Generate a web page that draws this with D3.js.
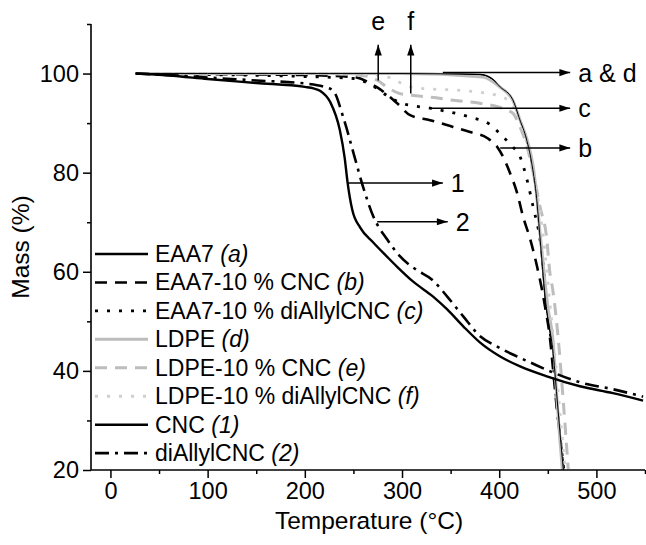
<!DOCTYPE html>
<html>
<head>
<meta charset="utf-8">
<script src="https://cdn.jsdelivr.net/npm/d3@7"></script>
<style>
  body { margin: 0; background: #fff; }
  svg { font-family: "Liberation Sans", Arial, sans-serif; }
</style>
</head>
<body>
<div id="chart"></div>
<script>
// <<< data: [temperature (°C), mass (%)] >>>
const eaa7 = [[26,100],[100,100],[200,100],[300,100],[380,99.8],[392,99],[401,97.3],[414,94.7],[421,90.8],[428,86.8],[434,81.3],[438.5,74.8],[441.5,68],[444.5,61],[447.5,54.5],[451,49.5],[455,44.5],[459.5,34.5],[463,26.5],[466,20]];
const eaa7Cnc = [[26,100],[100,99.9],[200,99.7],[250,99.3],[274.5,97.2],[295,94],[308.4,91.6],[329,90.6],[352.6,89.2],[370,88.2],[387.6,87],[398,85.2],[404,83.2],[411,80],[418.4,75.9],[424.6,71.1],[432,66.5],[439,61],[444,56.4],[448,52],[452,47],[455.4,40.3],[459,33],[462.6,26.8],[466,20]];
const eaa7Diallyl = [[26,100],[100,99.8],[200,99.4],[250,99],[270,97.5],[285,95.5],[300,94],[329,93],[370,91.2],[390,89.8],[404,87.2],[414,85.2],[421.5,83.2],[428.7,78.5],[435,73],[442,66.5],[446,60],[450,52],[455,43],[459,34],[463,26],[466.5,20]];
const ldpe = [[26,100],[100,100],[200,100],[300,100],[383,99.3],[401,97.2],[414,94.6],[421.5,90.6],[428.7,86.6],[435,81.2],[439,74.5],[442,67.9],[446,60],[450,53],[455.4,46],[459.5,34],[462.5,26],[465,20]];
const ldpeCnc = [[26,100],[200,100],[250,99.8],[265,99.4],[275,98.6],[285,97.2],[297,96],[310,95.6],[330,95.2],[353,94.6],[380,94],[400,93.2],[414,92],[421.5,89.2],[428.7,85.2],[435,80],[442,73.1],[449,66.5],[452,60],[455,56.5],[460.5,47],[466,33.7],[471,20.2]];
const ldpeDiallyl = [[26,100],[200,100],[270,99.8],[290,99],[305,97.5],[320,97],[360,96.6],[400,95.5],[414,93.5],[422,90],[429,85.5],[436,79],[442,72],[447,64],[451,56],[456,46],[461,35],[465,26],[468,20]];
const cnc = [[26,100],[60,99.6],[100,98.9],[150,98.1],[200,97.3],[209,97],[216,96.5],[226,94.3],[236,88.6],[241,83],[244,78],[248.8,72.5],[257,68.9],[270.4,65.9],[284.8,63],[295,61],[311.5,58],[332,55],[346.5,52.4],[363,49],[380.4,45.7],[401,42.9],[421.5,40.9],[449,38.9],[483,36.9],[517,35.5],[548,34]];
const diallylCnc = [[26,100],[60,99.7],[100,99.2],[150,98.6],[200,98],[220,97.3],[229,96.6],[239.5,91.2],[250,84],[260,77.1],[270.4,71.2],[284.8,66.5],[298,63.1],[314,60.5],[331,58.4],[346.5,55],[363,51],[380.4,47],[398,44.9],[414,43.3],[432,41.7],[455,39.7],[483,37.7],[517,36.3],[548,34.8]];

const seriesNames = ["EAA7", "EAA7-10 % CNC", "EAA7-10 % diAllylCNC", "LDPE", "LDPE-10 % CNC", "LDPE-10 % diAllylCNC", "CNC", "diAllylCNC"];
const seriesTags = ["(a)", "(b)", "(c)", "(d)", "(e)", "(f)", "(1)", "(2)"];
const seriesData = [eaa7, eaa7Cnc, eaa7Diallyl, ldpe, ldpeCnc, ldpeDiallyl, cnc, diallylCnc];

const xTicks = [0, 100, 200, 300, 400, 500];
const xMinor = [50, 150, 250, 350, 450, 550];
const yTicks = [20, 40, 60, 80, 100];
const yMinor = [30, 50, 70, 90, 110];

// annotation arrows, in data units
const hArrowLabels = ["a & d", "c", "b", "1", "2"];
const hArrowFrom = [342, 329, 401, 243.6, 274.5];
const hArrowTo = [473, 473, 473, 342, 347];
const hArrowMass = [100.2, 93, 85, 77.9, 70.1];
const vArrowLabels = ["e", "f"];
const vArrowTemp = [275.5, 309];
const vArrowFrom = [98.6, 96];
const vArrowTo = [105.8, 105.8];

// line styles per series
const styles = [
  {stroke: "#000", width: 1.6, dash: null},
  {stroke: "#000", width: 2.6, dash: "12,8"},
  {stroke: "#000", width: 2.8, dash: "3,9"},
  {stroke: "#bdbdbd", width: 3, dash: null},
  {stroke: "#bdbdbd", width: 3, dash: "12,8"},
  {stroke: "#cfcfcf", width: 2.8, dash: "3,9"},
  {stroke: "#000", width: 2.4, dash: null},
  {stroke: "#000", width: 2.6, dash: "14,6,3,6"}
];

var margin = {top: 24, right: 1, bottom: 75, left: 91},
    width = 646 - margin.left - margin.right,
    height = 545 - margin.top - margin.bottom;

const root = d3.select("#chart").append("svg")
  .attr("width", 646).attr("height", 545);

root.append("defs").append("marker")
  .attr("id", "head")
  .attr("markerUnits", "userSpaceOnUse")
  .attr("viewBox", "0 -5 12 10")
  .attr("refX", 12).attr("refY", 0)
  .attr("markerWidth", 13).attr("markerHeight", 9)
  .attr("orient", "auto")
  .append("path").attr("d", "M0,-4L12,0L0,4Z").attr("fill", "#000");

const svg = root.append("g")
  .attr("transform", "translate(" + margin.left + "," + margin.top + ")");

const x = d3.scaleLinear().domain([-20, 550]).range([0, width]);
const y = d3.scaleLinear().domain([20, 110]).range([height, 0]);

const line = d3.line()
  .x(function(d) { return x(d[0]); })
  .y(function(d) { return y(d[1]); })
  .curve(d3.curveMonotoneX);

//curves
seriesData.forEach(function(data, i) {
  const s = styles[i];
  svg.append("path")
    .datum(data)
    .attr("fill", "none")
    .attr("stroke", s.stroke)
    .attr("stroke-width", s.width)
    .attr("stroke-dasharray", s.dash)
    .attr("stroke-linejoin", "round")
    .attr("d", line);
});

// redraw EAA7 thin on top of LDPE
svg.append("path").datum(eaa7)
  .attr("fill", "none").attr("stroke", "#000").attr("stroke-width", 1)
  .attr("d", line);

//axes
const xAxis = svg.append("g").attr("transform", "translate(0," + height + ")")
  .call(d3.axisBottom(x).tickValues(xTicks).tickSize(8).tickPadding(4).tickFormat(d3.format("d")));
svg.append("g").attr("transform", "translate(0," + height + ")")
  .call(d3.axisBottom(x).tickValues(xMinor).tickSize(4).tickFormat(""))
  .select(".domain").remove();
const yAxis = svg.append("g")
  .call(d3.axisLeft(y).tickValues(yTicks).tickSize(8).tickPadding(4));
svg.append("g")
  .call(d3.axisLeft(y).tickValues(yMinor).tickSize(4).tickFormat(""))
  .select(".domain").remove();

svg.selectAll(".domain").attr("stroke-width", 1.6).attr("d", null);
xAxis.select(".domain").attr("d", "M0,0H" + width);
yAxis.select(".domain").attr("d", "M0,0V" + height);
svg.selectAll(".tick line").attr("stroke-width", 1.5);
svg.selectAll(".tick text")
  .attr("font-size", 23.5)
  .attr("font-family", "Liberation Sans, Arial, sans-serif")
  .attr("fill", "#000");

svg.append("text")
  .attr("x", x(266)).attr("y", height + 59)
  .attr("text-anchor", "middle")
  .attr("font-size", 24.5)
  .text("Temperature (°C)");

svg.append("text")
  .attr("transform", "rotate(-90)")
  .attr("x", -height / 2).attr("y", -62)
  .attr("text-anchor", "middle")
  .attr("font-size", 24.5)
  .text("Mass (%)");

//legend
const legend = svg.append("g").attr("transform", "translate(4,230)");
seriesNames.forEach(function(name, i) {
  const s = styles[i];
  const row = legend.append("g").attr("transform", "translate(0," + (i * 28.45) + ")");
  row.append("line")
    .attr("x1", 0).attr("x2", 53).attr("y1", 0).attr("y2", 0)
    .attr("stroke", s.stroke)
    .attr("stroke-width", i === 0 ? 2.4 : s.width)
    .attr("stroke-dasharray", s.dash);
  const t = row.append("text")
    .attr("x", 60).attr("y", 8)
    .attr("font-size", 23);
  t.append("tspan").text(name + " ");
  t.append("tspan").attr("font-style", "italic").text(seriesTags[i]);
});

//annotation arrows
hArrowLabels.forEach(function(label, i) {
  svg.append("line")
    .attr("x1", x(hArrowFrom[i])).attr("x2", x(hArrowTo[i]))
    .attr("y1", y(hArrowMass[i])).attr("y2", y(hArrowMass[i]))
    .attr("stroke", "#000").attr("stroke-width", 1.5)
    .attr("marker-end", "url(#head)");
  svg.append("text")
    .attr("x", x(hArrowTo[i]) + 8).attr("y", y(hArrowMass[i]) + 9)
    .attr("font-size", 25)
    .text(label);
});

vArrowLabels.forEach(function(label, i) {
  svg.append("line")
    .attr("x1", x(vArrowTemp[i])).attr("x2", x(vArrowTemp[i]))
    .attr("y1", y(vArrowFrom[i])).attr("y2", y(vArrowTo[i]))
    .attr("stroke", "#000").attr("stroke-width", 1.5)
    .attr("marker-end", "url(#head)");
  svg.append("text")
    .attr("x", x(vArrowTemp[i])).attr("y", y(vArrowTo[i]) - 15)
    .attr("text-anchor", "middle")
    .attr("font-size", 25)
    .text(label);
});
</script>
</body>
</html>
